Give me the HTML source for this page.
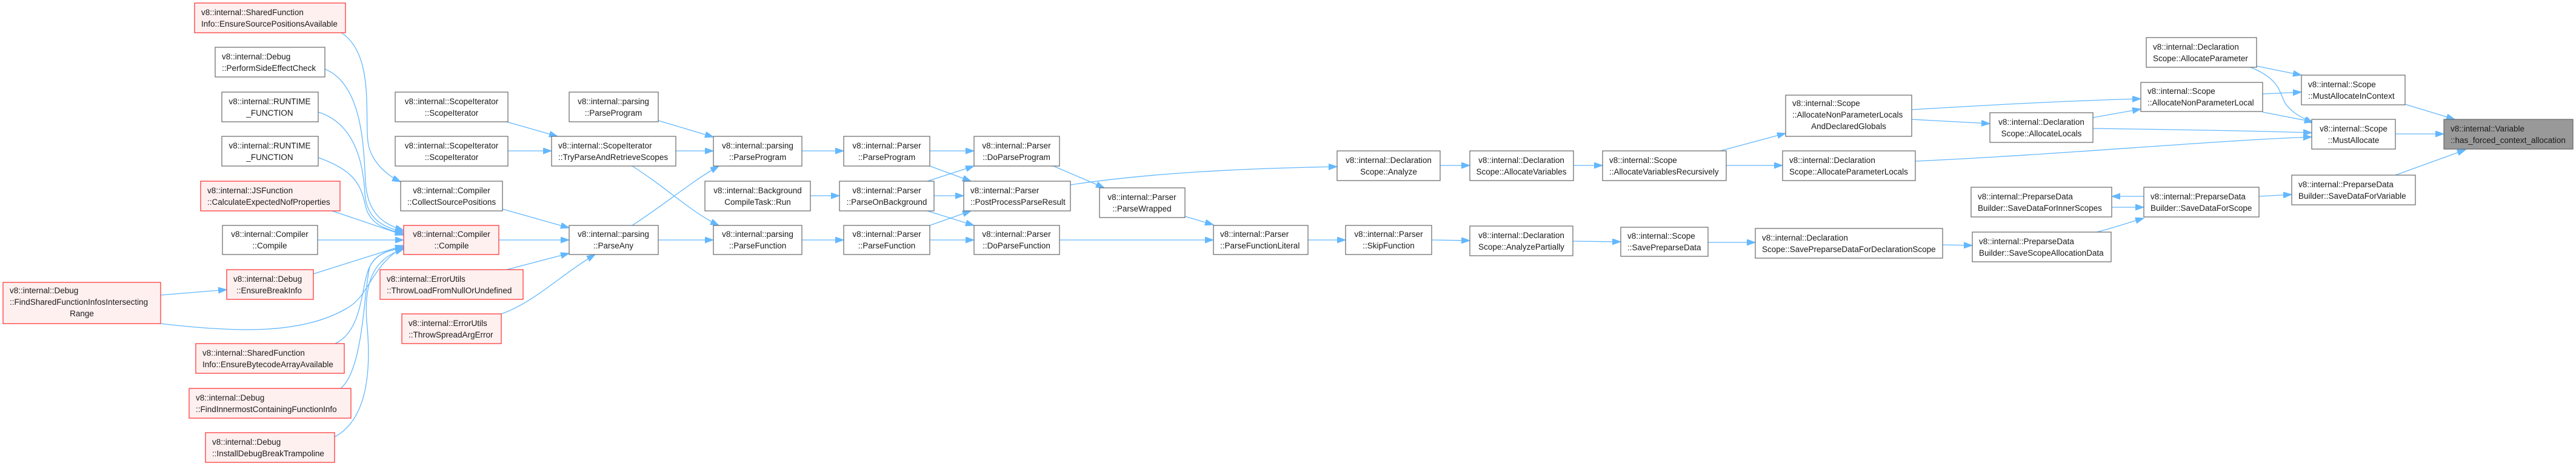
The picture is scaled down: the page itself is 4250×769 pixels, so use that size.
<!DOCTYPE html>
<html><head><meta charset="utf-8"><style>
html,body{margin:0;padding:0;background:#fff;width:4250px;height:769px;overflow:hidden}
svg{display:block}
text{font-family:"Liberation Sans",sans-serif;font-size:13.5px;fill:#1a1a1a}
.w{fill:#fff;stroke:#666;stroke-width:1.2}
.r{fill:#fff0f0;stroke:#ff2a2a;stroke-width:1.2}
.g{fill:#999;stroke:#666;stroke-width:1.2}
.e{fill:none;stroke:#63b8ff;stroke-width:1.3;marker-end:url(#a)}
.c{text-anchor:middle}
</style></head><body>
<svg width="4250" height="769" viewBox="0 0 4250 769" xmlns="http://www.w3.org/2000/svg">
<defs><marker id="a" markerUnits="userSpaceOnUse" markerWidth="15" markerHeight="11" refX="14" refY="5" orient="auto"><path d="M0,0 L14,5 L0,10 z" fill="#63b8ff" stroke="#63b8ff"/></marker></defs>

<!-- edges -->
<path class="e" d="M563,54 C620,90 600,200 608,240 C615,270 640,290 661,300"/>
<path class="e" d="M536,114 C600,140 600,250 603,300 C606,350 630,370 666,380"/>
<path class="e" d="M525,185 C590,205 600,280 602,320 C605,360 630,375 666,383"/>
<path class="e" d="M525,260 C580,280 595,300 603,340 C610,370 635,378 666,386"/>
<path class="e" d="M548,348 L666,388"/>
<path class="e" d="M524,396 L666,396"/>
<path class="e" d="M517,452 L666,405"/>
<path class="e" d="M265,534 C400,550 500,550 570,510 C610,490 610,440 666,407"/>
<path class="e" d="M553,567 C600,545 595,470 610,440 C620,420 640,412 666,409"/>
<path class="e" d="M562,641 C600,610 600,480 610,440 C620,420 640,412 666,410"/>
<path class="e" d="M552,721 C610,690 612,600 605,530 C600,460 620,425 666,411"/>
<path class="e" d="M265,487 L374,478"/>
<path class="e" d="M836,201 L920,225"/>
<path class="e" d="M838,249 L910,249"/>
<path class="e" d="M829,345 L939,376"/>
<path class="e" d="M823,396 L939,396"/>
<path class="e" d="M836,445 L939,418"/>
<path class="e" d="M827,518 C880,500 930,450 982,420"/>
<path class="e" d="M1086,199 L1177,226"/>
<path class="e" d="M1115,249 L1177,249"/>
<path class="e" d="M1043,274 C1100,310 1140,350 1186,372"/>
<path class="e" d="M1043,372 C1100,335 1140,300 1186,274"/>
<path class="e" d="M1086,396 L1177,396"/>
<path class="e" d="M1323,249 L1392,249"/>
<path class="e" d="M1337,323 L1385,323"/>
<path class="e" d="M1323,396 L1392,396"/>
<path class="e" d="M1534,249 L1607,249"/>
<path class="e" d="M1534,274 L1602,299"/>
<path class="e" d="M1530,299 L1607,274"/>
<path class="e" d="M1541,323 L1590,323"/>
<path class="e" d="M1530,348 L1607,372"/>
<path class="e" d="M1534,372 L1602,348"/>
<path class="e" d="M1534,396 L1607,396"/>
<path class="e" d="M1738,274 L1822,310"/>
<path class="e" d="M1955,357 L2002,371"/>
<path class="e" d="M1748,396 L2002,396"/>
<path class="e" d="M1766,305 C1900,285 2050,278 2206,275"/>
<path class="e" d="M2158,396 L2220,396"/>
<path class="e" d="M2362,396 L2425,397"/>
<path class="e" d="M2595,398 L2674,399"/>
<path class="e" d="M2818,400 L2896,400"/>
<path class="e" d="M3205,404 L3254,405"/>
<path class="e" d="M2376,273 L2425,273"/>
<path class="e" d="M2596,273 L2644,273"/>
<path class="e" d="M2838,249 L2946,220"/>
<path class="e" d="M2848,273 L2941,273"/>
<path class="e" d="M3154,197 L3283,204"/>
<path class="e" d="M3154,181 C3300,172 3420,166 3532,163"/>
<path class="e" d="M3453,194 L3532,180"/>
<path class="e" d="M3453,212 C3600,214 3720,216 3814,219"/>
<path class="e" d="M3160,266 C3400,255 3650,232 3814,226"/>
<path class="e" d="M3733,155 L3797,152"/>
<path class="e" d="M3733,185 L3816,201"/>
<path class="e" d="M3723,109 L3797,124"/>
<path class="e" d="M3713,111 C3760,130 3760,150 3770,170 C3780,185 3795,193 3816,203"/>
<path class="e" d="M3968,172 L4050,197"/>
<path class="e" d="M3952,221 L4032,221"/>
<path class="e" d="M3952,289 L4068,247"/>
<path class="e" d="M3727,324 L3781,321"/>
<path class="e" d="M3537,324 L3484,324"/>
<path class="e" d="M3484,342 L3537,342"/>
<path class="e" d="M3459,383 C3490,375 3510,368 3537,360"/>

<!-- nodes -->
<rect class="r" x="321" y="5" width="249" height="49"/><text x="332" y="25">v8::internal::SharedFunction</text><text x="332" y="44">Info::EnsureSourcePositionsAvailable</text>
<rect class="w" x="355" y="78" width="181" height="49"/><text x="366" y="98">v8::internal::Debug</text><text x="366" y="117">::PerformSideEffectCheck</text>
<rect class="w" x="366" y="152" width="159" height="49"/><text class="c" x="445" y="172">v8::internal::RUNTIME</text><text class="c" x="445" y="191">_FUNCTION</text>
<rect class="w" x="366" y="225" width="159" height="49"/><text class="c" x="445" y="245">v8::internal::RUNTIME</text><text class="c" x="445" y="264">_FUNCTION</text>
<rect class="r" x="331" y="299" width="230" height="49"/><text x="342" y="319">v8::internal::JSFunction</text><text x="342" y="338">::CalculateExpectedNofProperties</text>
<rect class="w" x="367" y="372" width="157" height="48"/><text class="c" x="445" y="391">v8::internal::Compiler</text><text class="c" x="445" y="410">::Compile</text>
<rect class="r" x="374" y="445" width="143" height="49"/><text x="385" y="465">v8::internal::Debug</text><text x="390" y="484">::EnsureBreakInfo</text>
<rect class="r" x="5" y="466" width="260" height="68"/><text x="16" y="484">v8::internal::Debug</text><text x="16" y="503">::FindSharedFunctionInfosIntersecting</text><text class="c" x="135" y="522">Range</text>
<rect class="r" x="323" y="567" width="245" height="49"/><text x="334" y="587">v8::internal::SharedFunction</text><text x="334" y="606">Info::EnsureBytecodeArrayAvailable</text>
<rect class="r" x="312" y="641" width="267" height="49"/><text x="323" y="661">v8::internal::Debug</text><text x="323" y="680">::FindInnermostContainingFunctionInfo</text>
<rect class="r" x="339" y="714" width="213" height="49"/><text x="350" y="734">v8::internal::Debug</text><text x="350" y="753">::InstallDebugBreakTrampoline</text>

<rect class="w" x="652" y="152" width="186" height="49"/><text class="c" x="745" y="172">v8::internal::ScopeIterator</text><text class="c" x="745" y="191">::ScopeIterator</text>
<rect class="w" x="652" y="225" width="186" height="49"/><text class="c" x="745" y="245">v8::internal::ScopeIterator</text><text class="c" x="745" y="264">::ScopeIterator</text>
<rect class="w" x="661" y="299" width="168" height="49"/><text class="c" x="745" y="319">v8::internal::Compiler</text><text class="c" x="745" y="338">::CollectSourcePositions</text>
<rect class="r" x="666" y="372" width="157" height="48"/><text class="c" x="745" y="391">v8::internal::Compiler</text><text class="c" x="745" y="410">::Compile</text>
<rect class="r" x="627" y="445" width="236" height="49"/><text x="638" y="465">v8::internal::ErrorUtils</text><text x="638" y="484">::ThrowLoadFromNullOrUndefined</text>
<rect class="r" x="663" y="518" width="164" height="49"/><text x="674" y="538">v8::internal::ErrorUtils</text><text x="674" y="557">::ThrowSpreadArgError</text>

<rect class="w" x="939" y="152" width="147" height="49"/><text class="c" x="1012" y="172">v8::internal::parsing</text><text class="c" x="1012" y="191">::ParseProgram</text>
<rect class="w" x="910" y="225" width="205" height="49"/><text x="921" y="245">v8::internal::ScopeIterator</text><text x="921" y="264">::TryParseAndRetrieveScopes</text>
<rect class="w" x="939" y="372" width="147" height="48"/><text class="c" x="1012" y="391">v8::internal::parsing</text><text class="c" x="1012" y="410">::ParseAny</text>
<rect class="w" x="1177" y="225" width="146" height="49"/><text class="c" x="1250" y="245">v8::internal::parsing</text><text class="c" x="1250" y="264">::ParseProgram</text>
<rect class="w" x="1163" y="299" width="174" height="49"/><text class="c" x="1250" y="319">v8::internal::Background</text><text class="c" x="1250" y="338">CompileTask::Run</text>
<rect class="w" x="1177" y="372" width="146" height="48"/><text class="c" x="1250" y="391">v8::internal::parsing</text><text class="c" x="1250" y="410">::ParseFunction</text>

<rect class="w" x="1392" y="225" width="142" height="49"/><text class="c" x="1463" y="245">v8::internal::Parser</text><text class="c" x="1463" y="264">::ParseProgram</text>
<rect class="w" x="1385" y="299" width="156" height="49"/><text class="c" x="1463" y="319">v8::internal::Parser</text><text class="c" x="1463" y="338">::ParseOnBackground</text>
<rect class="w" x="1392" y="372" width="142" height="48"/><text class="c" x="1463" y="391">v8::internal::Parser</text><text class="c" x="1463" y="410">::ParseFunction</text>
<rect class="w" x="1607" y="225" width="141" height="49"/><text class="c" x="1677" y="245">v8::internal::Parser</text><text class="c" x="1677" y="264">::DoParseProgram</text>
<rect class="w" x="1590" y="299" width="176" height="49"/><text x="1601" y="319">v8::internal::Parser</text><text x="1601" y="338">::PostProcessParseResult</text>
<rect class="w" x="1607" y="372" width="141" height="48"/><text class="c" x="1677" y="391">v8::internal::Parser</text><text class="c" x="1677" y="410">::DoParseFunction</text>
<rect class="w" x="1814" y="310" width="141" height="49"/><text class="c" x="1884" y="330">v8::internal::Parser</text><text class="c" x="1884" y="349">::ParseWrapped</text>
<rect class="w" x="2002" y="372" width="156" height="48"/><text x="2013" y="391">v8::internal::Parser</text><text x="2013" y="410">::ParseFunctionLiteral</text>

<rect class="w" x="2206" y="249" width="170" height="49"/><text class="c" x="2291" y="269">v8::internal::Declaration</text><text class="c" x="2291" y="288">Scope::Analyze</text>
<rect class="w" x="2425" y="249" width="171" height="49"/><text class="c" x="2510" y="269">v8::internal::Declaration</text><text class="c" x="2510" y="288">Scope::AllocateVariables</text>
<rect class="w" x="2644" y="249" width="204" height="49"/><text x="2655" y="269">v8::internal::Scope</text><text x="2655" y="288">::AllocateVariablesRecursively</text>
<rect class="w" x="2220" y="372" width="142" height="48"/><text class="c" x="2291" y="391">v8::internal::Parser</text><text class="c" x="2291" y="410">::SkipFunction</text>
<rect class="w" x="2425" y="373" width="170" height="49"/><text class="c" x="2510" y="393">v8::internal::Declaration</text><text class="c" x="2510" y="412">Scope::AnalyzePartially</text>
<rect class="w" x="2674" y="375" width="144" height="48"/><text x="2685" y="394">v8::internal::Scope</text><text x="2685" y="413">::SavePreparseData</text>

<rect class="w" x="2946" y="157" width="208" height="68"/><text x="2957" y="175">v8::internal::Scope</text><text x="2957" y="194">::AllocateNonParameterLocals</text><text class="c" x="3050" y="213">AndDeclaredGlobals</text>
<rect class="w" x="2941" y="249" width="219" height="49"/><text x="2952" y="269">v8::internal::Declaration</text><text x="2952" y="288">Scope::AllocateParameterLocals</text>
<rect class="w" x="3283" y="186" width="170" height="49"/><text class="c" x="3368" y="206">v8::internal::Declaration</text><text class="c" x="3368" y="225">Scope::AllocateLocals</text>
<rect class="w" x="2896" y="377" width="309" height="49"/><text x="2907" y="397">v8::internal::Declaration</text><text x="2907" y="416">Scope::SavePreparseDataForDeclarationScope</text>
<rect class="w" x="3252" y="309" width="232" height="49"/><text x="3263" y="329">v8::internal::PreparseData</text><text x="3263" y="348">Builder::SaveDataForInnerScopes</text>
<rect class="w" x="3254" y="383" width="229" height="49"/><text x="3265" y="403">v8::internal::PreparseData</text><text x="3265" y="422">Builder::SaveScopeAllocationData</text>

<rect class="w" x="3541" y="62" width="182" height="49"/><text x="3552" y="82">v8::internal::Declaration</text><text x="3552" y="101">Scope::AllocateParameter</text>
<rect class="w" x="3532" y="136" width="201" height="48"/><text x="3543" y="155">v8::internal::Scope</text><text x="3543" y="174">::AllocateNonParameterLocal</text>
<rect class="w" x="3537" y="309" width="190" height="49"/><text x="3548" y="329">v8::internal::PreparseData</text><text x="3548" y="348">Builder::SaveDataForScope</text>
<rect class="w" x="3797" y="124" width="171" height="49"/><text x="3808" y="144">v8::internal::Scope</text><text x="3808" y="163">::MustAllocateInContext</text>
<rect class="w" x="3814" y="197" width="138" height="49"/><text class="c" x="3883" y="217">v8::internal::Scope</text><text class="c" x="3883" y="236">::MustAllocate</text>
<rect class="w" x="3781" y="289" width="204" height="49"/><text x="3792" y="309">v8::internal::PreparseData</text><text x="3792" y="328">Builder::SaveDataForVariable</text>
<rect class="g" x="4032" y="197" width="213" height="49"/><text x="4043" y="217">v8::internal::Variable</text><text x="4043" y="236">::has_forced_context_allocation</text>
</svg>
</body></html>
